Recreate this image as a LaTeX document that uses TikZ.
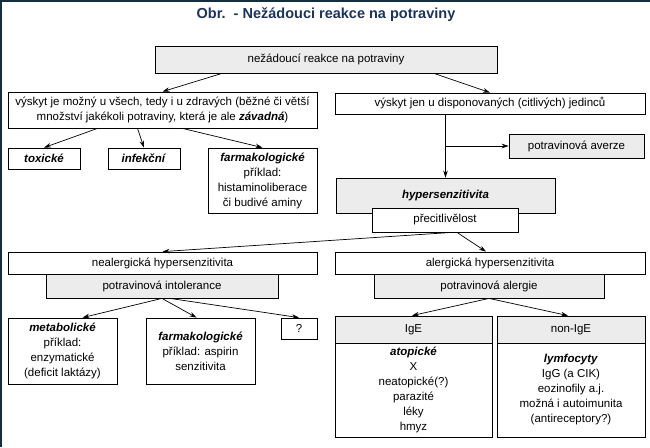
\documentclass[tikz,border=0pt]{standalone}
\usepackage{fontspec}
\setmainfont{Liberation Sans}
\usetikzlibrary{arrows.meta}

\definecolor{framecol}{RGB}{14,48,66}
\definecolor{titlecol}{RGB}{28,52,92}
\definecolor{boxgrey}{RGB}{236,236,236}

\begin{document}
\begin{tikzpicture}[x=1pt,y=-1pt,line join=miter,
  box/.style={draw,line width=0.8pt,fill=white,inner sep=0pt,align=center,
   font=\fontsize{11.5}{15}\selectfont},
  greybox/.style={box,fill=boxgrey},
  arr/.style={line width=0.7pt,-{Stealth[length=7pt,width=4.6pt]}}]
  \useasboundingbox (0,0) rectangle (650,447);

  % Frame on the left and top edges, and the title.
  \fill[framecol] (0,0) rectangle (2,447);
  \fill[framecol] (0,0) rectangle (650,1.5);
  \node[text=titlecol,font=\fontsize{14.5}{17}\bfseries] (nadpis) at (326,15)
   {Obr.\ \ - Nežádouci reakce na potraviny};

  % Top level and the two kinds of occurrence.
  \node[greybox,minimum width=342,minimum height=27] (reakce) at (326,59.5)
   {nežádoucí reakce na potraviny};
  \node[box,minimum width=309,minimum height=36] (vsech) at (162.5,110)
   {výskyt je možný u všech, tedy i u zdravých (běžné či větší\\
    množství jakékoli potraviny, která je ale \textbf{\textit{závadná}})};
  \node[box,minimum width=310,minimum height=21] (disp) at (490,103.5)
   {výskyt jen u disponovaných (citlivých) jedinců};

  % Reactions possible in everybody.
  \node[box,minimum width=72,minimum height=21] (toxicke) at (44,158.5)
   {\textbf{\textit{toxické}}};
  \node[box,minimum width=72,minimum height=21] (infekcni) at (144,158.5)
   {\textbf{\textit{infekční}}};
  \node[box,minimum width=109,minimum height=65] (farmA) at (262.5,180.5)
   {\textbf{\textit{farmakologické}}\\příklad:\\histaminoliberace\\či budivé aminy};

  % Reactions of disposed persons only.
  \node[greybox,minimum width=135,minimum height=24] (averze) at (576.5,146)
   {potravinová averze};
  \node[greybox,minimum width=219,minimum height=35] (hyper) at (445.5,195.5)
   {\textbf{\textit{hypersenzitivita}}};
  \node[box,minimum width=146,minimum height=24] (precit) at (445,220)
   {přecitlivělost};

  % Non-allergic and allergic hypersensitivity.
  \node[box,minimum width=309,minimum height=22] (nealerg) at (162.5,263)
   {nealergická hypersenzitivita};
  \node[greybox,minimum width=232,minimum height=24] (intol) at (162,286)
   {potravinová intolerance};
  \node[box,minimum width=310,minimum height=22] (alerg) at (490,263)
   {alergická hypersenzitivita};
  \node[greybox,minimum width=230,minimum height=24] (alergie) at (489,286)
   {potravinová alergie};

  % Kinds of intolerance.
  \node[box,minimum width=109,minimum height=66] (metab) at (62.5,351)
   {\textbf{\textit{metabolické}}\\příklad:\\enzymatické\\(deficit laktázy)};
  \node[box,minimum width=109,minimum height=66] (farmB) at (200.5,351)
   {\textbf{\textit{farmakologické}}\\příklad: aspirin\\senzitivita};
  \node[box,minimum width=36,minimum height=21] (otaz) at (299,328.5) {?};

  % Kinds of allergy: grey head over a white body.
  \node[greybox,minimum width=157,minimum height=27] (igehead) at (413.5,329.5) {IgE};
  \node[box,minimum width=157,minimum height=94] (igebody) at (413.5,390)
   {\textbf{\textit{atopické}}\\X\\neatopické(?)\\parazité\\léky\\hmyz};
  \node[greybox,minimum width=148,minimum height=27] (nonigehead) at (571,329.5) {non-IgE};
  \node[box,minimum width=148,minimum height=94] (nonigebody) at (571,390)
   {\textbf{\textit{lymfocyty}}\\IgG (a CIK)\\eozinofily a.j.\\možná i autoimunita\\(antireceptory?)};

  % Connectors.
  \draw[arr] ([xshift=-104]reakce.south) -- (vsech.north);
  \draw[arr] ([xshift=108]reakce.south) -- (disp.north);
  \foreach \dx/\cil in {-65/toxicke,-25/infekcni,20/farmA}
   \draw[arr] ([xshift=\dx]vsech.south) -- (\cil.north);
  \draw[arr] (hyper.north |- disp.south) -- (hyper.north);
  \draw[arr] (hyper.north |- averze.west) -- (averze.west);
  \draw[arr] ([xshift=7]precit.south) -- (nealerg.north);
  \draw[arr] ([xshift=12]precit.south) -- ([xshift=-4]alerg.north);
  \draw[arr] (intol.south) -- ([xshift=20]metab.north);
  \draw[arr] (intol.south) -- ([xshift=-4]farmB.north);
  \draw[arr] ([xshift=8]intol.south) -- (otaz.north);
  \draw[arr] (alergie.south) -- ([xshift=-1.5]igehead.north);
  \draw[arr] (alergie.south) -- ([xshift=-3]nonigehead.north);
 \end{tikzpicture}
\end{document}
